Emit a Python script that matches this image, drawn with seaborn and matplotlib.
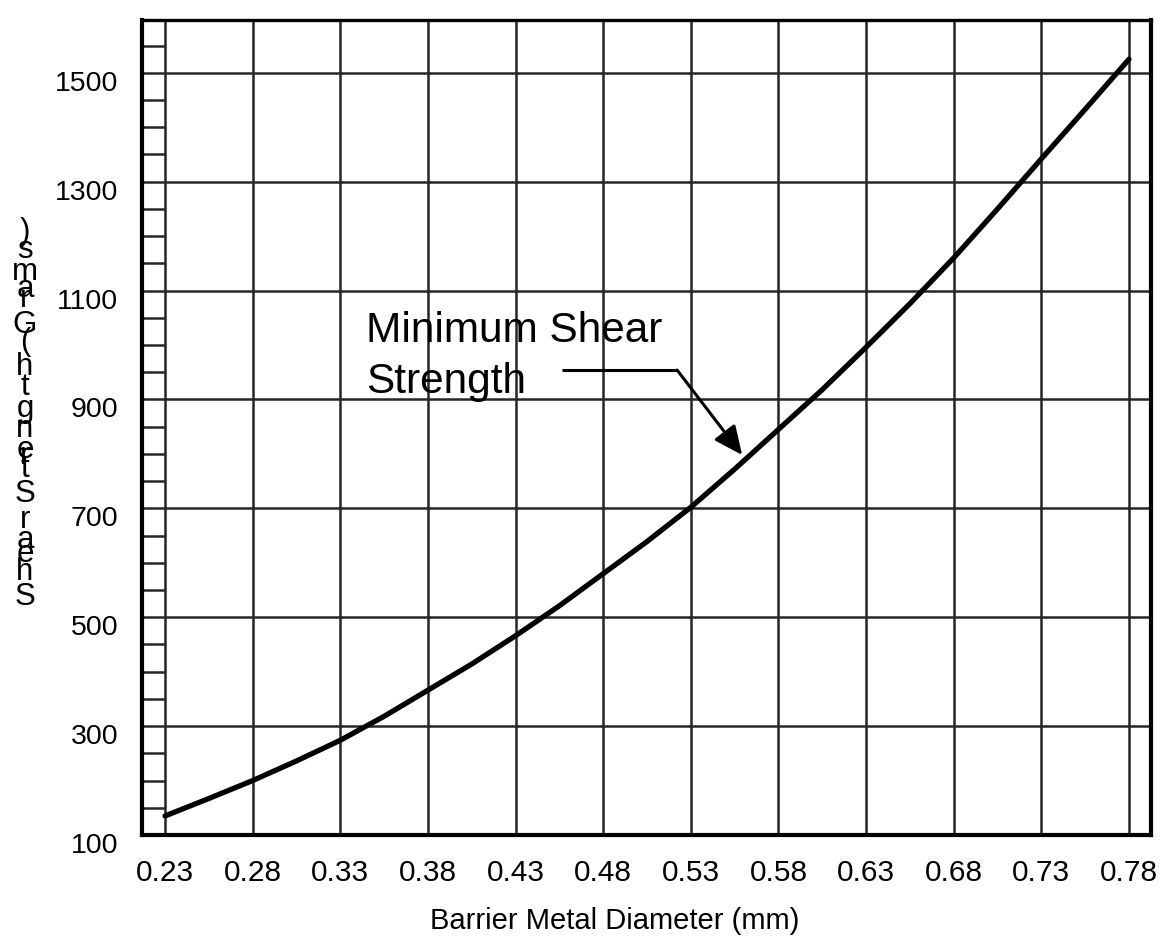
import matplotlib
matplotlib.use("Agg")
import matplotlib.pyplot as plt
import pandas as pd
import seaborn as sns
from matplotlib.ticker import FixedLocator, MultipleLocator
from matplotlib.transforms import ScaledTranslation

# Minimum shear strength curve vs barrier metal diameter
diameter_mm = [0.23, 0.255, 0.28, 0.305, 0.33, 0.355, 0.38, 0.405, 0.43,
               0.455, 0.48, 0.505, 0.53, 0.555, 0.58, 0.605, 0.63, 0.655,
               0.68, 0.705, 0.73, 0.755, 0.78]
min_shear_g = [135, 167, 200, 236, 274, 318, 366, 414, 466,
               521, 580, 639, 702, 772, 845, 918, 996, 1076,
               1160, 1250, 1342, 1433, 1525]

x_ticks = [0.23, 0.28, 0.33, 0.38, 0.43, 0.48, 0.53, 0.58, 0.63, 0.68, 0.73, 0.78]
y_ticks = [100, 300, 500, 700, 900, 1100, 1300, 1500]
x_tick_labels = ["0.23", "0.28", "0.33", "0.38", "0.43", "0.48",
                 "0.53", "0.58", "0.63", "0.68", "0.73", "0.78"]
y_tick_labels = ["100", "300", "500", "700", "900", "1100", "1300", "1500"]

x_title = "Barrier Metal Diameter (mm)"
y_title = "Shear Strength (Grams)"
note_lines = ["Minimum Shear", "Strength"]

sns.set_theme(style="white")
plt.rcParams["font.family"] = ["Liberation Sans", "DejaVu Sans"]

W, H = 1166, 942
fig = plt.figure(figsize=(W / 100, H / 100), dpi=100)
ax = fig.add_axes([142 / W, 107 / H, 1009 / W, 815 / H])

df = pd.DataFrame({"diameter": diameter_mm, "strength": min_shear_g})
sns.lineplot(data=df, x="diameter", y="strength", ax=ax, color="black",
             linewidth=3.8, solid_capstyle="round", solid_joinstyle="round",
             zorder=3)

ax.set_xlim(0.21687, 0.79256)
ax.set_ylim(100, 1597)

grid_col = "#262626"
ax.xaxis.set_major_locator(FixedLocator(x_ticks))
ax.yaxis.set_major_locator(FixedLocator(y_ticks))
ax.set_xticklabels(x_tick_labels)
ax.set_yticklabels(y_tick_labels)
ax.yaxis.set_minor_locator(MultipleLocator(50))
ax.grid(True, which="major", color=grid_col, linewidth=1.8)
ax.set_axisbelow(True)

ax.tick_params(axis="both", which="major", length=0, labelcolor="black")
ax.tick_params(axis="y", which="major", pad=17, labelsize=20.5)
ax.tick_params(axis="x", which="major", pad=17, labelsize=21.5)
ax.tick_params(axis="y", which="minor", direction="in", length=16.6,
               width=1.8, color=grid_col, left=True)

# nudge y tick labels slightly below their grid lines
shift = ScaledTranslation(0, -8 / 100, fig.dpi_scale_trans)
for lab in ax.get_yticklabels():
    lab.set_transform(lab.get_transform() + shift)

for side in ["left", "right", "top", "bottom"]:
    ax.spines[side].set_visible(True)
    ax.spines[side].set_color("black")
    ax.spines[side].set_linewidth(3)
ax.spines["top"].set_linewidth(2.4)

ax.set_xlabel(x_title, fontsize=21, color="black")
ax.xaxis.set_label_coords(0.468, -0.088)
ax.set_ylabel("")

# stacked-letter y title, read bottom to top
stack_chars = [c for c in reversed(y_title) if c != " "]
stack_baselines = [240, 258, 280, 297, 307, 333, 350, 375, 395, 417,
                   437, 458, 464, 477, 502, 528, 548, 562, 580, 605]
for ch, yb in zip(stack_chars, stack_baselines):
    fig.text(25 / W, 1 - yb / H, ch, fontsize=22.5, ha="center",
             va="baseline", color="black")

# callout for the curve
ax.text(0.3447, 1006, note_lines[0], fontsize=30.5, va="baseline", ha="left",
        color="black", zorder=4)
ax.text(0.3447, 912, note_lines[1], fontsize=30.5, va="baseline", ha="left",
        color="black", zorder=4)
ax.plot([0.4566, 0.5222], [954, 954], color="black", linewidth=2.2,
        solid_capstyle="butt", zorder=4)
ax.annotate("", xy=(0.5593, 798), xytext=(0.5222, 954),
            arrowprops=dict(arrowstyle="-|>,head_length=0.7,head_width=0.32",
                            mutation_scale=25, color="black", lw=2.2,
                            shrinkA=0, shrinkB=0),
            zorder=4)

fig.savefig("out.png", dpi=100, facecolor="white")
